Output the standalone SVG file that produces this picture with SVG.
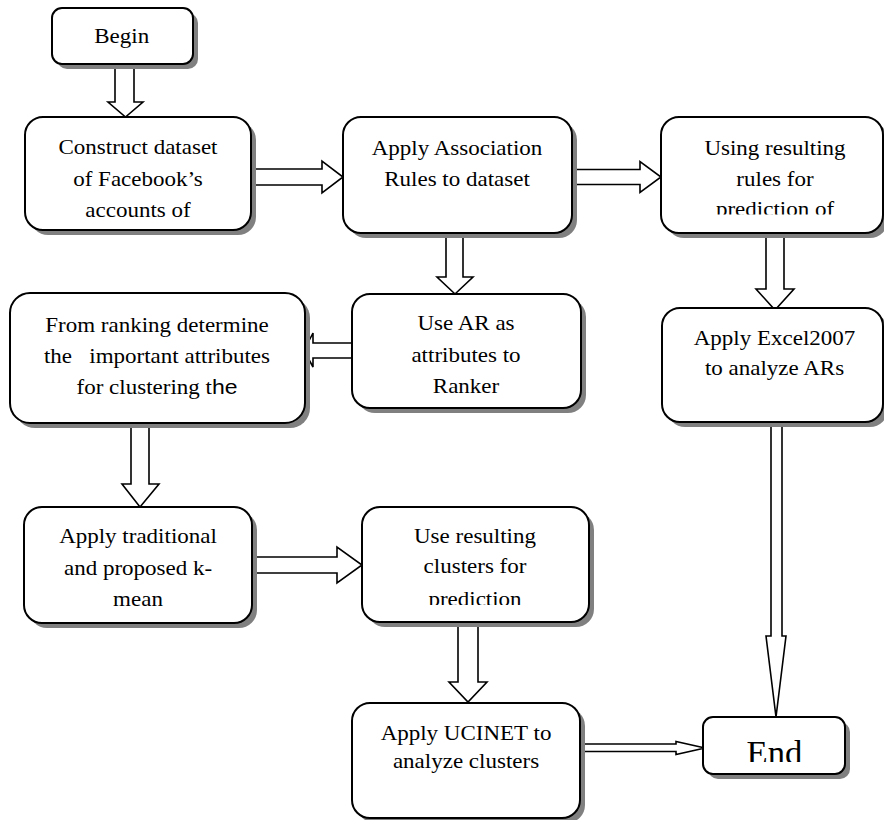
<svg xmlns="http://www.w3.org/2000/svg" width="884" height="820" viewBox="0 0 884 820">
<style>
.shadow{fill:#808080;stroke:none}
.box{fill:#fff;stroke:#000;stroke-width:2}
.arr{fill:#fff;stroke:#000;stroke-width:1.6;stroke-linejoin:miter}
text{font-family:"Liberation Serif","Times New Roman",serif;font-size:20px;fill:#000;text-anchor:middle;white-space:pre}
.end{font-size:33px}
.sans{font-family:"Liberation Sans",Arial,sans-serif}
</style>
<defs>
<clipPath id="clipUsing"><rect x="600" y="120" width="284" height="94.5"/></clipPath>
<clipPath id="clipUseRes"><rect x="362" y="508" width="228" height="97"/></clipPath>
<clipPath id="clipEnd"><rect x="700" y="718" width="150" height="44"/></clipPath>
</defs>
<g id="connectors">
<polygon class="arr" points="115,64 134,64 134,102 143,102 125.5,117 108,102 115,102"/>
<polygon class="arr" points="251,169 322,169 322,161 343,177 322,193 322,185 251,185"/>
<polygon class="arr" points="572,169.5 640,169.5 640,161.5 661,177 640,192.5 640,184.5 572,184.5"/>
<polygon class="arr" points="446,233 463,233 463,277 473,277 455,294 437,277 446,277"/>
<polygon class="arr" points="352,343 313,343 313,333 304,350.5 313,367 313,358 352,358"/>
<polygon class="arr" points="766,233 784,233 784,289 794,289 775,310 756,289 766,289"/>
<polygon class="arr" points="131,423 149,423 149,484 159,484 140,507 122,484 131,484"/>
<polygon class="arr" points="252,557 337,557 337,547 362,565 337,583 337,573 252,573"/>
<polygon class="arr" points="458,622 478,622 478,682 487,682 468,702 449,682 458,682"/>
<polygon class="arr" points="771,422 782,422 782,636 786,636 776,717 766,636 771,636"/>
<polygon class="arr" points="580,744 676,744 676,741.5 705,748 676,754.5 676,751.5 580,751.5"/>
</g>
<g id="begin">
<rect class="shadow" x="57" y="13" width="141" height="56" rx="10"/>
<rect class="box" x="52" y="8" width="141" height="56" rx="10"/>
<text transform="translate(121.7,0) scale(1.15,1)"><tspan x="0" y="43">Begin</tspan></text>
</g>
<g id="construct">
<rect class="shadow" x="30" y="122" width="226" height="113" rx="18"/>
<rect class="box" x="25" y="117" width="226" height="113" rx="18"/>
<text transform="translate(138,0) scale(1.15,1)"><tspan x="0" y="154">Construct dataset</tspan><tspan x="0" y="186">of Facebook’s</tspan><tspan x="0" y="217">accounts of</tspan></text>
</g>
<g id="apply-assoc">
<rect class="shadow" x="348" y="122" width="229" height="116" rx="18"/>
<rect class="box" x="343" y="117" width="229" height="116" rx="18"/>
<text transform="translate(457,0) scale(1.15,1)"><tspan x="0" y="155">Apply Association</tspan><tspan x="0" y="186">Rules to dataset</tspan></text>
</g>
<g id="using">
<rect class="shadow" x="666" y="122" width="222" height="116" rx="18"/>
<rect class="box" x="661" y="117" width="222" height="116" rx="18"/>
<g clip-path="url(#clipUsing)">
<text transform="translate(775,0) scale(1.15,1)"><tspan x="0" y="155">Using resulting</tspan><tspan x="0" y="186">rules for</tspan><tspan x="0" y="216">prediction of</tspan></text>
</g>
</g>
<g id="use-ar">
<rect class="shadow" x="357" y="299" width="229" height="114" rx="18"/>
<rect class="box" x="352" y="294" width="229" height="114" rx="18"/>
<text transform="translate(466,0) scale(1.15,1)"><tspan x="0" y="330">Use AR as</tspan><tspan x="0" y="362">attributes to</tspan><tspan x="0" y="393">Ranker</tspan></text>
</g>
<g id="from-ranking">
<rect class="shadow" x="15" y="298" width="295" height="130" rx="20"/>
<rect class="box" x="10" y="293" width="295" height="130" rx="20"/>
<text transform="translate(157,0) scale(1.15,1)"><tspan x="0" y="332">From ranking determine</tspan><tspan x="0" y="363">the   important attributes</tspan><tspan x="0" y="394">for clustering t<tspan class="sans">he</tspan></tspan></text>
</g>
<g id="excel">
<rect class="shadow" x="667" y="313" width="221" height="114" rx="18"/>
<rect class="box" x="662" y="308" width="221" height="114" rx="18"/>
<text transform="translate(774.5,0) scale(1.15,1)"><tspan x="0" y="345">Apply Excel2007</tspan><tspan x="0" y="375">to analyze ARs</tspan></text>
</g>
<g id="apply-trad">
<rect class="shadow" x="29" y="512" width="228" height="116" rx="18"/>
<rect class="box" x="24" y="507" width="228" height="116" rx="18"/>
<text transform="translate(138,0) scale(1.15,1)"><tspan x="0" y="543">Apply traditional</tspan><tspan x="0" y="575">and proposed k-</tspan><tspan x="0" y="606">mean</tspan></text>
</g>
<g id="use-resulting">
<rect class="shadow" x="367" y="512" width="227" height="115" rx="18"/>
<rect class="box" x="362" y="507" width="227" height="115" rx="18"/>
<g clip-path="url(#clipUseRes)">
<text transform="translate(475,0) scale(1.15,1)"><tspan x="0" y="543">Use resulting</tspan><tspan x="0" y="573">clusters for</tspan><tspan x="0" y="606">prediction</tspan></text>
</g>
</g>
<g id="ucinet">
<rect class="shadow" x="357" y="708" width="228" height="115" rx="18"/>
<rect class="box" x="352" y="703" width="228" height="115" rx="18"/>
<text transform="translate(466,0) scale(1.15,1)"><tspan x="0" y="740">Apply UCINET to</tspan><tspan x="0" y="768">analyze clusters</tspan></text>
</g>
<g id="end">
<rect class="shadow" x="708" y="722" width="142" height="57" rx="10"/>
<rect class="box" x="703" y="717" width="142" height="57" rx="10"/>
<g clip-path="url(#clipEnd)">
<text class="end" transform="translate(774.5,0) scale(1.05,1)"><tspan x="0" y="764">End</tspan></text>
</g>
</g>
</svg>
